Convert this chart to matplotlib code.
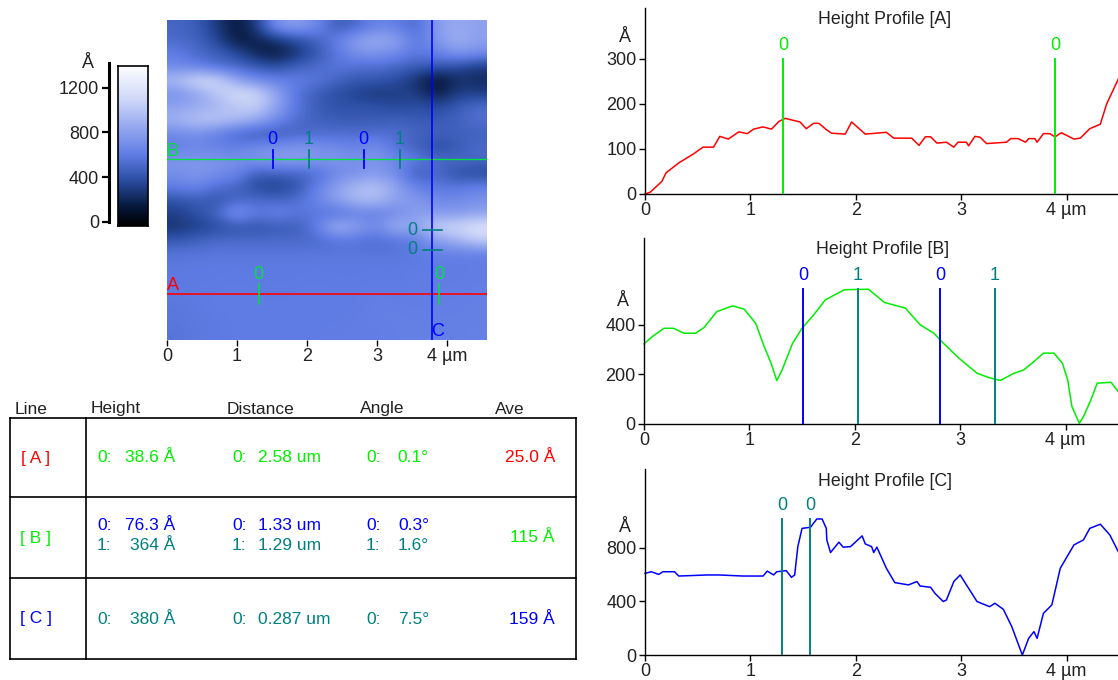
import numpy as np
import matplotlib
matplotlib.use('Agg')
import matplotlib.pyplot as plt
from matplotlib.colors import LinearSegmentedColormap

plt.rcParams['font.family'] = ['Liberation Sans', 'DejaVu Sans']

W, H = 1118, 680

# height map, top row first (Angstrom)
scan_rows = [
    [520, 480, 320, 150, 340, 780, 820, 720, 450, 540, 680, 640, 520, 820, 880, 830],
    [540, 510, 380, 170, 200, 300, 400, 500, 650, 840, 900, 850, 600, 780, 920, 830],
    [640, 540, 490, 400, 230, 150, 300, 450, 600, 750, 760, 700, 600, 650, 780, 720],
    [700, 650, 560, 530, 460, 420, 500, 550, 600, 560, 560, 520, 470, 450, 400, 320],
    [980, 1180, 1130, 850, 700, 650, 650, 600, 520, 450, 450, 400, 280, 100, 280, 250],
    [740, 840, 1030, 1170, 1130, 850, 580, 480, 400, 350, 300, 340, 340, 180, 340, 340],
    [830, 880, 930, 1030, 1080, 840, 600, 470, 430, 430, 430, 380, 420, 380, 470, 560],
    [930, 1030, 1030, 980, 880, 700, 550, 500, 470, 470, 470, 500, 470, 460, 500, 560],
    [700, 740, 650, 520, 460, 470, 510, 550, 560, 560, 560, 560, 510, 500, 500, 500],
    [640, 690, 650, 650, 700, 740, 780, 740, 700, 650, 740, 560, 500, 380, 460, 540],
    [770, 770, 770, 730, 780, 820, 820, 780, 780, 740, 780, 690, 640, 540, 540, 530],
    [730, 780, 730, 690, 470, 510, 510, 560, 690, 740, 790, 700, 460, 540, 410, 380],
    [640, 690, 560, 520, 380, 340, 430, 650, 830, 970, 1020, 830, 650, 600, 600, 650],
    [430, 480, 430, 520, 550, 520, 560, 690, 830, 970, 970, 830, 790, 700, 700, 750],
    [340, 430, 520, 820, 600, 690, 600, 600, 560, 640, 650, 690, 830, 790, 790, 840],
    [290, 340, 390, 430, 430, 470, 470, 640, 970, 830, 700, 970, 830, 1120, 1120, 1220],
    [450, 500, 540, 540, 540, 540, 540, 540, 590, 590, 550, 590, 640, 830, 930, 1070],
    [590, 590, 600, 600, 600, 600, 600, 600, 600, 600, 600, 600, 620, 640, 650, 640],
    [610, 620, 620, 620, 620, 620, 620, 620, 620, 620, 620, 620, 630, 630, 630, 640],
    [620, 620, 620, 630, 620, 620, 620, 630, 620, 620, 630, 620, 640, 630, 640, 640],
    [620, 620, 630, 630, 630, 620, 630, 630, 630, 630, 640, 630, 640, 640, 640, 650],
    [600, 620, 630, 630, 630, 630, 630, 630, 630, 630, 650, 650, 640, 640, 650, 650],
    [600, 610, 620, 630, 630, 630, 630, 630, 630, 640, 650, 650, 650, 650, 650, 650],
    [590, 610, 620, 630, 630, 630, 630, 630, 640, 640, 640, 650, 650, 660, 650, 660],
]

prof_a_x = [0, .05, .16, .2, .32, .46, .55, .65, .71, .79, .89, .97, 1.03, 1.12, 1.2, 1.27, 1.33, 1.47, 1.53,
            1.6, 1.65, 1.72, 1.77, 1.9, 1.96, 2.09, 2.29, 2.36, 2.53, 2.6, 2.66, 2.71, 2.77, 2.86, 2.93, 2.97,
            3.05, 3.07, 3.13, 3.18, 3.24, 3.43, 3.47, 3.54, 3.61, 3.64, 3.7, 3.72, 3.78, 3.84, 3.89, 3.95,
            4.07, 4.13, 4.22, 4.32, 4.38, 4.45, 4.49]
prof_a_y = [0, 4, 28, 47, 69, 89, 104, 104, 128, 122, 138, 134, 144, 149, 144, 161, 168, 160, 145,
            157, 157, 143, 135, 133, 160, 133, 137, 124, 124, 108, 127, 127, 113, 115, 104, 115,
            115, 107, 128, 126, 112, 115, 123, 123, 115, 123, 123, 115, 134, 134, 127, 136,
            122, 124, 145, 155, 200, 235, 255]

prof_b_x = [0, .08, .19, .28, .38, .49, .57, .69, .84, .95, 1.06, 1.14, 1.2, 1.26, 1.31, 1.41, 1.5, 1.61, 1.72,
            1.9, 2.13, 2.28, 2.48, 2.62, 2.75, 2.84, 2.99, 3.16, 3.27, 3.38, 3.51, 3.6, 3.7, 3.79, 3.89, 3.97,
            4.02, 4.06, 4.13, 4.17, 4.24, 4.3, 4.43, 4.5]
prof_b_y = [322, 352, 385, 385, 365, 365, 388, 452, 475, 462, 405, 311, 251, 175, 217, 325, 385, 439, 499,
            540, 542, 489, 466, 399, 365, 325, 264, 204, 187, 175, 204, 217, 251, 285, 285, 244,
            177, 70, 3, 30, 97, 164, 168, 130]

prof_c_x = [0, .06, .13, .17, .28, .32, .59, .7, .93, 1.12, 1.16, 1.22, 1.25, 1.34, 1.39, 1.42, 1.45, 1.49, 1.57,
            1.63, 1.68, 1.72, 1.725, 1.76, 1.84, 1.88, 1.95, 2.06, 2.09, 2.15, 2.17, 2.2, 2.29, 2.37, 2.5, 2.58,
            2.61, 2.71, 2.75, 2.83, 2.86, 2.93, 2.99, 3.07, 3.15, 3.27, 3.32, 3.4, 3.48, 3.58, 3.64, 3.69, 3.72,
            3.78, 3.86, 3.94, 4.07, 4.16, 4.22, 4.32, 4.41, 4.49]
prof_c_y = [608, 620, 600, 620, 620, 588, 596, 596, 588, 588, 625, 596, 620, 628, 578, 596, 807, 943, 951,
            1013, 1013, 943, 857, 763, 840, 803, 807, 887, 827, 807, 763, 803, 646, 539, 522, 547,
            514, 504, 460, 398, 410, 547, 596, 497, 398, 360, 385, 340, 211, 0, 124, 174, 124,
            310, 373, 646, 820, 857, 943, 974, 894, 770]

cursor_a_x = [1.31, 3.89]
cursor_a_lab = ['0', '0']
cursor_b_x = [1.51, 2.03, 2.81, 3.33]
cursor_b_lab = ['0', '1', '0', '1']
cursor_c_x = [1.30, 1.57]
cursor_c_lab = ['0', '0']

x_ticks = [0, 1, 2, 3, 4]
x_labels = ['0', '1', '2', '3', '4 µm']

table_heads = ['Line', 'Height', 'Distance', 'Angle', 'Ave']
line_names = ['[ A ]', '[ B ]', '[ C ]']
rows_height = [('0:', '38.6 Å'), ('0:', '76.3 Å'), ('1:', '364 Å'), ('0:', '380 Å')]
rows_dist = [('0:', '2.58 um'), ('0:', '1.33 um'), ('1:', '1.29 um'), ('0:', '0.287 um')]
rows_angle = [('0:', '0.1°'), ('0:', '0.3°'), ('1:', '1.6°'), ('0:', '7.5°')]
ave_values = ['25.0 Å', '115 Å', '159 Å']

RED, GREEN, BLUE, TEAL = '#ff0000', '#00f000', '#0000ff', '#008080'
DARK = '#222222'
row_colors = [GREEN, BLUE, TEAL, TEAL]
row_ys = [458, 525, 545, 619]
ave_colors = [RED, GREEN, BLUE]
ave_ys = [458, 538, 619]

cmap = LinearSegmentedColormap.from_list('afm', [
    (0.0, '#000000'), (0.12, '#06183c'), (0.28, '#2a4ca0'), (0.44, '#5f7ce4'),
    (0.58, '#8a9fee'), (0.78, '#cdd6f8'), (1.0, '#ffffff')])


def px_axes(fig, left, top, right, bottom):
    return fig.add_axes([left / W, 1 - bottom / H, (right - left) / W, (bottom - top) / H])


def draw_profile(fig, box, xs, ys, color, ymax, yticks, cursors, labels, cur_colors, cur_top):
    ax = px_axes(fig, *box)
    ax.plot(xs, ys, color=color, lw=1.1, clip_on=False, zorder=2)
    ax.set_xlim(0, (box[2] - box[0]) / 105.4)
    ax.set_ylim(0, ymax)
    ax.spines[['top', 'right']].set_visible(False)
    ax.spines[['left', 'bottom']].set_linewidth(1.0)
    ax.set_xticks(x_ticks, x_labels)
    ax.set_yticks(yticks)
    ax.tick_params(labelsize=13, length=4, width=1, pad=2, labelcolor=DARK)
    ax.patch.set_alpha(0)
    for cx, lab, c in zip(cursors, labels, cur_colors):
        ax.plot([cx, cx], [0, cur_top], color=c, lw=1.4, zorder=3)
        ax.annotate(lab, (cx, cur_top), xytext=(0, 10), textcoords='offset points',
                    ha='center', va='center', color=c, fontsize=13)
    return ax


fig = plt.figure(figsize=(W / 100, H / 100), dpi=100)

# scan image
SCAN = 320 / 70
ax_img = px_axes(fig, 167, 20, 487, 340)
ax_img.imshow(np.array(scan_rows), cmap=cmap, vmin=0, vmax=1420, extent=(0, SCAN, 0, SCAN),
              aspect='auto', interpolation='bicubic')
ax_img.plot([0, SCAN], [0.657, 0.657], color=RED, lw=1.2)
ax_img.plot([0, SCAN], [2.59, 2.59], color='#00e040', lw=1.0)
ax_img.plot([3.79, 3.79], [0, SCAN], color=BLUE, lw=1.2)
for cx, lab, c in zip(cursor_b_x, cursor_b_lab, [BLUE, TEAL, BLUE, TEAL]):
    ax_img.plot([cx, cx], [2.46, 2.72], color=c, lw=1.3)
    ax_img.annotate(lab, (cx, 2.72), xytext=(0, 7), textcoords='offset points',
                    ha='center', va='center', color=c, fontsize=13)
for cx, lab in zip(cursor_a_x, cursor_a_lab):
    ax_img.plot([cx, cx], [0.52, 0.80], color='#00e040', lw=1.2)
    ax_img.annotate(lab, (cx, 0.80), xytext=(0, 7), textcoords='offset points',
                    ha='center', va='center', color='#00e040', fontsize=13)
for cy in [1.57, 1.29]:
    ax_img.plot([3.65, 3.93], [cy, cy], color=TEAL, lw=1.2)
    ax_img.annotate('0', (3.65, cy), xytext=(-7, 0), textcoords='offset points',
                    ha='center', va='center', color=TEAL, fontsize=13)
ax_img.set_xlim(0, SCAN)
ax_img.set_ylim(0, SCAN)
ax_img.set_xticks(x_ticks, x_labels)
ax_img.set_yticks([])
for s in ax_img.spines.values():
    s.set_visible(False)
ax_img.tick_params(labelsize=13, length=4, width=1, pad=2, labelcolor=DARK)

# colour scale
ax_bar = px_axes(fig, 118, 66, 148, 226)
ax_bar.imshow(np.linspace(1420, 0, 256)[:, None], cmap=cmap, vmin=0, vmax=1420, aspect='auto')
ax_bar.set_xticks([])
ax_bar.set_yticks([])
for s in ax_bar.spines.values():
    s.set_linewidth(1.2)

ax_scale = px_axes(fig, 109, 63, 110, 222)
ax_scale.set_ylim(0, 1420)
ax_scale.set_xticks([])
ax_scale.set_yticks([0, 400, 800, 1200])
ax_scale.spines[['top', 'right', 'bottom']].set_visible(False)
ax_scale.spines['left'].set_linewidth(2.2)
ax_scale.tick_params(labelsize=13, length=5, width=1.6, pad=2, labelcolor=DARK)
ax_scale.patch.set_alpha(0)

# profiles
draw_profile(fig, (645, 8, W, 194), prof_a_x, prof_a_y, RED, 413, [0, 100, 200, 300],
             cursor_a_x, cursor_a_lab, [GREEN, GREEN], 300)
draw_profile(fig, (644, 238, W, 424), prof_b_x, prof_b_y, '#00ee00', 748, [0, 200, 400],
             cursor_b_x, cursor_b_lab, [BLUE, TEAL, BLUE, TEAL], 542)
draw_profile(fig, (645, 469, W, 655), prof_c_x, prof_c_y, BLUE, 1385, [0, 400, 800],
             cursor_c_x, cursor_c_lab, [TEAL, TEAL], 1011)

# overlay in pixel coordinates for table and loose labels
ov = fig.add_axes([0, 0, 1, 1])
ov.set_xlim(0, W)
ov.set_ylim(H, 0)
ov.axis('off')
ov.patch.set_alpha(0)

for txt, x, y in [('Height Profile [A]', 885, 20), ('Height Profile [B]', 883, 250), ('Height Profile [C]', 885, 481)]:
    ov.text(x, y, txt, ha='center', va='center', fontsize=12.8, color=DARK)
for x, y in [(625, 38), (623, 302), (625, 527), (88, 64)]:
    ov.text(x, y, 'Å', ha='center', va='center', fontsize=13, color=DARK)
ov.text(172.7, 285, 'A', ha='center', va='center', fontsize=13, color=RED)
ov.text(172.7, 152, 'B', ha='center', va='center', fontsize=13, color='#00e040')
ov.text(437.7, 332, 'C', ha='center', va='center', fontsize=13, color=BLUE)

for head, x in zip(table_heads, [15, 91, 227, 360, 495]):
    ov.text(x, 409, head, ha='left', va='center', fontsize=12.5, color=DARK)
for y in [418, 497, 578, 659]:
    ov.plot([10, 576], [y, y], color='black', lw=1.2)
for x in [10, 86, 576]:
    ov.plot([x, x], [418, 659], color='black', lw=1.2)
for name, c, y in zip(line_names, ave_colors, ave_ys):
    ov.text(36, y, name, ha='center', va='center', fontsize=12.5, color=c)
for i in range(4):
    c, y = row_colors[i], row_ys[i]
    ov.text(97, y, rows_height[i][0], va='center', fontsize=12.5, color=c)
    ov.text(175, y, rows_height[i][1], ha='right', va='center', fontsize=12.5, color=c)
    ov.text(232, y, rows_dist[i][0], va='center', fontsize=12.5, color=c)
    ov.text(258, y, rows_dist[i][1], va='center', fontsize=12.5, color=c)
    ov.text(366, y, rows_angle[i][0], va='center', fontsize=12.5, color=c)
    ov.text(429, y, rows_angle[i][1], ha='right', va='center', fontsize=12.5, color=c)
for val, c, y in zip(ave_values, ave_colors, ave_ys):
    ov.text(555, y, val, ha='right', va='center', fontsize=12.5, color=c)

fig.savefig('out.png', dpi=100)
